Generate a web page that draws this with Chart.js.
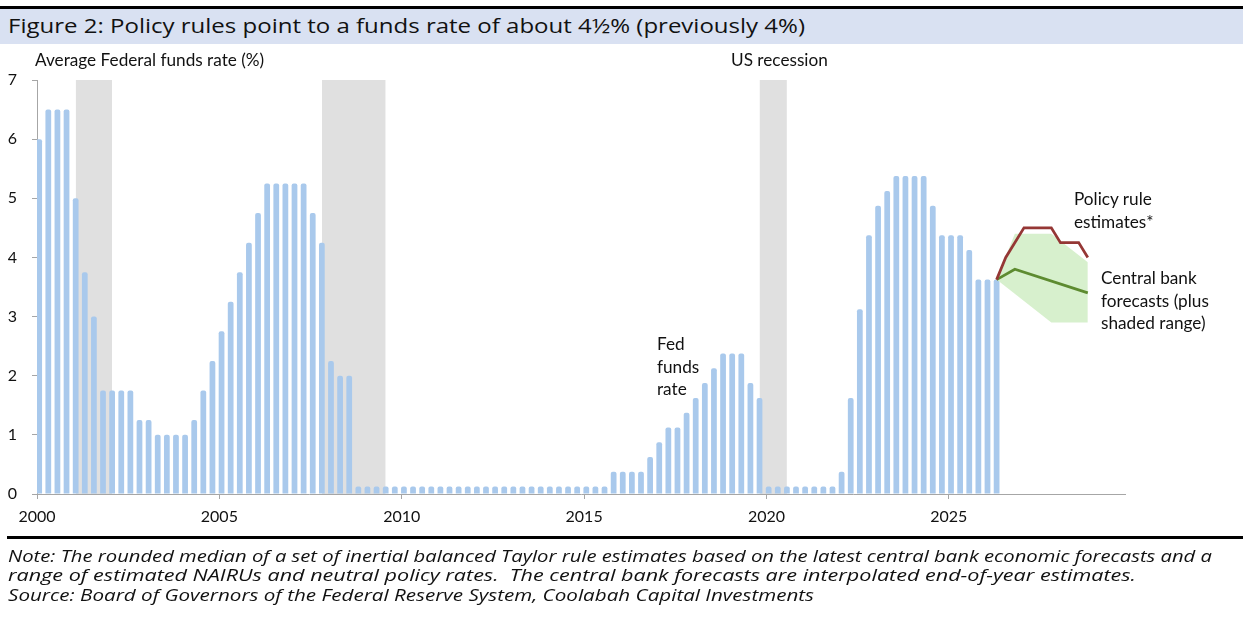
<!DOCTYPE html>
<html>
<head>
<meta charset="utf-8">
<script src="https://cdn.jsdelivr.net/npm/chart.js@4.4.1/dist/chart.umd.min.js"></script>
<style>
  body { margin: 0; background: #fff; font-family: 'Lato', sans-serif; color: #111; }
  #page { position: relative; width: 1248px; height: 617px; overflow: hidden; }
  #titleBar { position: absolute; left: 0; top: 6px; width: 1243px; height: 35px;
    border-top: 3px solid #000; background: #d9e1f2; }
  #titleBar span { position: absolute; left: 8px; top: 1px; font-family: 'Open Sans', sans-serif;
    font-size: 19.5px; line-height: 31px; white-space: nowrap; }
  #chart { position: absolute; left: 0; top: 0; }
  .lbl { position: absolute; font-size: 17.2px; line-height: 22.5px; white-space: nowrap; }
  #rule { position: absolute; left: 7px; top: 536px; width: 1236px; height: 3px; background: #000; }
  #notes { position: absolute; left: 8px; top: 546px; font-family: 'Open Sans', sans-serif;
    font-style: italic; font-size: 16.5px; line-height: 19.4px; }
  #notes div { white-space: nowrap; }
  .fit { display: inline-block; transform-origin: 0 50%; }
</style>
</head>
<body>
<div id="page">
  <canvas id="chart" width="1248" height="540"></canvas>
  <div id="titleBar"><span class="fit" data-w="797">Figure 2: Policy rules point to a funds rate of about 4½% (previously 4%)</span></div>
  <div class="lbl" style="left:35px; top:49px;">Average Federal funds rate (%)</div>
  <div class="lbl" style="left:731px; top:49px;">US recession</div>
  <div class="lbl" style="left:657px; top:333px;">Fed<br>funds<br>rate</div>
  <div class="lbl" style="left:1074px; top:188px;">Policy rule<br>estimates*</div>
  <div class="lbl" style="left:1101px; top:267px;">Central bank<br>forecasts (plus<br>shaded range)</div>
  <div id="rule"></div>
  <div id="notes">
    <div><span class="fit" data-w="1204">Note: The rounded median of a set of inertial balanced Taylor rule estimates based on the latest central bank economic forecasts and a</span></div>
    <div><span class="fit" data-w="1128">range of estimated NAIRUs and neutral policy rates.&nbsp; The central bank forecasts are interpolated end-of-year estimates.</span></div>
    <div><span class="fit" data-w="806">Source: Board of Governors of the Federal Reserve System, Coolabah Capital Investments</span></div>
  </div>
</div>
<script>
// quarterly average fed funds rate, 2000Q1 .. 2026Q2
const firstYear = 2000;
const rates = [
  6.0, 6.5, 6.5, 6.5,        // 2000
  5.0, 3.75, 3.0, 1.75,      // 2001
  1.75, 1.75, 1.75, 1.25,    // 2002
  1.25, 1.0, 1.0, 1.0,       // 2003
  1.0, 1.25, 1.75, 2.25,     // 2004
  2.75, 3.25, 3.75, 4.25,    // 2005
  4.75, 5.25, 5.25, 5.25,    // 2006
  5.25, 5.25, 4.75, 4.25,    // 2007
  2.25, 2.0, 2.0, 0.125,     // 2008
  0.125, 0.125, 0.125, 0.125, // 2009
  0.125, 0.125, 0.125, 0.125, // 2010
  0.125, 0.125, 0.125, 0.125, // 2011
  0.125, 0.125, 0.125, 0.125, // 2012
  0.125, 0.125, 0.125, 0.125, // 2013
  0.125, 0.125, 0.125, 0.125, // 2014
  0.125, 0.125, 0.125, 0.375, // 2015
  0.375, 0.375, 0.375, 0.625, // 2016
  0.875, 1.125, 1.125, 1.375, // 2017
  1.625, 1.875, 2.125, 2.375, // 2018
  2.375, 2.375, 1.875, 1.625, // 2019
  0.125, 0.125, 0.125, 0.125, // 2020
  0.125, 0.125, 0.125, 0.125, // 2021
  0.375, 1.625, 3.125, 4.375, // 2022
  4.875, 5.125, 5.375, 5.375, // 2023
  5.375, 5.375, 4.875, 4.375, // 2024
  4.375, 4.375, 4.125, 3.625, // 2025
  3.625, 3.625               // 2026
];

const recessionStart = ['2001Q1', '2007Q4', '2019Q4'];
const recessionEnd = ['2001Q4', '2009Q2', '2020Q2'];

const policyQuarters = ['2026Q2', '2026Q3', '2027Q1', '2027Q4', '2028Q1', '2028Q3', '2028Q4'];
const policyRule = [3.625, 4.0, 4.5, 4.5, 4.25, 4.25, 4.0];

const cbQuarters = ['2026Q2', '2026Q4', '2028Q4'];
const cbForecast = [3.625, 3.8, 3.4];

const rangeHighQuarters = ['2026Q2', '2026Q4', '2027Q4', '2028Q4'];
const rangeHigh = [3.625, 4.4, 4.4, 3.92];
const rangeLowQuarters = ['2026Q2', '2027Q4', '2028Q4'];
const rangeLow = [3.625, 2.9, 2.9];

const yearTicks = [2000, 2005, 2010, 2015, 2020, 2025];

// bars sit a little after the start of each quarter on the date axis
const barOffset = 0.06;

function qx(label) {
  let y = parseInt(label.slice(0, 4));
  let q = parseInt(label.slice(5));
  return y + (q - 1) / 4 + barOffset;
}

function toPoints(quarters, values) {
  let pts = [];
  for (let i = 0; i < quarters.length; i++) {
    pts.push({x: qx(quarters[i]), y: values[i]});
  }
  return pts;
}

let barPoints = [];
for (let i = 0; i < rates.length; i++) {
  barPoints.push({x: firstYear + i / 4 + barOffset, y: rates[i]});
}

let datasets = [];

for (let i = 0; i < recessionStart.length; i++) {
  datasets.push({
    type: 'line',
    data: [{x: qx(recessionStart[i]), y: 7}, {x: qx(recessionEnd[i]) + 0.25, y: 7}],
    borderColor: 'rgba(0,0,0,0)',
    borderWidth: 0,
    pointRadius: 0,
    backgroundColor: '#e0e0e0',
    fill: 'origin',
    order: 5
  });
}

datasets.push({
  type: 'bar',
  data: barPoints,
  backgroundColor: '#a9c9ec',
  barPercentage: 0.63,
  categoryPercentage: 1,
  borderRadius: {topLeft: 2, topRight: 2},
  borderSkipped: 'start',
  order: 4
});

let rangeIdx = datasets.length;
datasets.push({
  type: 'line',
  data: toPoints(rangeHighQuarters, rangeHigh),
  borderColor: 'rgba(0,0,0,0)',
  borderWidth: 0,
  pointRadius: 0,
  backgroundColor: '#d7f0cd',
  fill: rangeIdx + 1,
  order: 3
});
datasets.push({
  type: 'line',
  data: toPoints(rangeLowQuarters, rangeLow),
  borderColor: 'rgba(0,0,0,0)',
  borderWidth: 0,
  pointRadius: 0,
  fill: false,
  order: 3
});

datasets.push({
  type: 'line',
  data: toPoints(cbQuarters, cbForecast),
  borderColor: '#5d8b30',
  borderWidth: 2.75,
  pointRadius: 0,
  fill: false,
  order: 1
});
datasets.push({
  type: 'line',
  data: toPoints(policyQuarters, policyRule),
  borderColor: '#953735',
  borderWidth: 2.75,
  pointRadius: 0,
  fill: false,
  order: 0
});

Chart.defaults.font.family = 'Lato';
Chart.defaults.color = '#111';

new Chart(document.getElementById('chart'), {
  type: 'bar',
  data: {datasets: datasets},
  options: {
    responsive: false,
    animation: false,
    events: [],
    layout: {padding: {top: 80, right: 123, left: 0, bottom: 0}},
    plugins: {legend: {display: false}, tooltip: {enabled: false}},
    scales: {
      x: {
        type: 'linear',
        min: 2000,
        max: 2029.83,
        offset: false,
        afterBuildTicks: function(axis) {
          axis.ticks = yearTicks.map(function(v) { return {value: v}; });
        },
        afterFit: function(axis) { axis.height = 46; },
        grid: {display: true, offset: false, drawOnChartArea: false, drawTicks: true, tickLength: 5, color: '#a6a6a6'},
        border: {display: true, color: '#a6a6a6', width: 1},
        ticks: {font: {size: 16}, color: '#111', padding: 8, maxRotation: 0,
          callback: function(v) { return String(v); }}
      },
      y: {
        min: 0,
        max: 7,
        afterFit: function(axis) { axis.width = 37; },
        grid: {display: true, drawOnChartArea: false, drawTicks: true, tickLength: 5, color: '#a6a6a6'},
        border: {display: true, color: '#a6a6a6', width: 1},
        ticks: {stepSize: 1, font: {size: 16}, color: '#111', padding: 15}
      }
    }
  }
});

// widen the long texts to the width they have in the figure
let fits = document.querySelectorAll('.fit');
for (let i = 0; i < fits.length; i++) {
  let el = fits[i];
  let target = parseFloat(el.getAttribute('data-w'));
  let w = el.getBoundingClientRect().width;
  el.style.transform = 'scaleX(' + (target / w) + ')';
}
</script>
</body>
</html>
